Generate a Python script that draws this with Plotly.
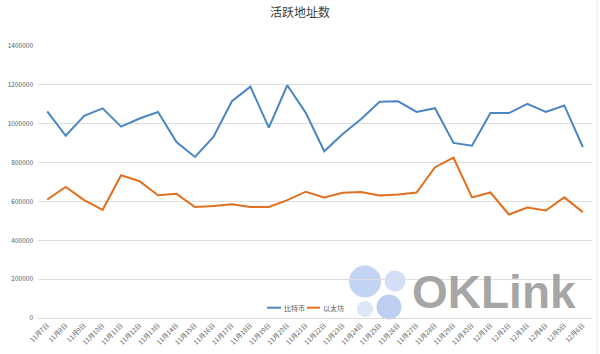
import plotly.graph_objects as go

dates = ["11月7日","11月8日","11月9日","11月10日","11月11日","11月12日","11月13日","11月14日",
         "11月15日","11月16日","11月17日","11月18日","11月19日","11月20日","11月21日","11月22日",
         "11月23日","11月24日","11月25日","11月26日","11月27日","11月28日","11月29日","11月30日",
         "12月1日","12月2日","12月3日","12月4日","12月5日","12月6日"]
btc = [1063000, 938000, 1041000, 1079000, 985000, 1027000, 1060000, 906000, 829000, 932000,
       1116000, 1191000, 980000, 1198000, 1056000, 858000, 947000, 1024000, 1113000, 1115000,
       1061000, 1080000, 901000, 887000, 1055000, 1055000, 1102000, 1061000, 1094000, 880000]
eth = [610000, 675000, 607000, 557000, 735000, 704000, 632000, 639000, 571000, 576000,
       585000, 571000, 571000, 607000, 650000, 621000, 645000, 648000, 631000, 636000,
       646000, 776000, 825000, 621000, 646000, 533000, 569000, 553000, 621000, 545000]
y_ticks = [0, 200000, 400000, 600000, 800000, 1000000, 1200000, 1400000]
series_names = ["比特币", "以太坊"]
series_colors = ["#4a86c3", "#e0701e"]

fig = go.Figure()
for name, vals, col in zip(series_names, [btc, eth], series_colors):
    fig.add_trace(go.Scatter(x=dates, y=vals, mode="lines", name=name,
                             line=dict(color=col, width=2), showlegend=False))

W, H = 600, 354
L, R, T, B = 38, 8, 46, 36
pw, ph = W - L - R, H - T - B


def px(x):
    return (x - L) / pw


def py(y):
    return (H - B - y) / ph


# OKLink watermark (decoration)
circles = [(365, 281.5, 16, "#c3d3f4"), (395, 281, 10.5, "#d3dff7"),
           (365, 309, 8, "#dce7f8"), (389, 307, 12.5, "#bfcff2")]
shapes = []
for cx, cy, r, c in circles:
    shapes.append(dict(type="circle", xref="paper", yref="paper", layer="below",
                       x0=px(cx - r), x1=px(cx + r), y0=py(cy + r), y1=py(cy - r),
                       fillcolor=c, line=dict(width=0)))
shapes.append(dict(type="line", xref="paper", yref="paper", x0=px(597), x1=px(597),
                   y0=py(H), y1=py(0), line=dict(color="#e6e6e6", width=1)))

annotations = [dict(text="<b>OKLink</b>", xref="paper", yref="paper",
                    x=px(410), xanchor="left", y=py(292), yanchor="middle",
                    showarrow=False,
                    font=dict(size=46, color="rgba(150,150,150,0.85)",
                              family="Liberation Sans, Arial"))]

# custom compact legend
leg = [(267, 281, series_names[0], series_colors[0]), (307, 320, series_names[1], series_colors[1])]
for x0, x1, name, col in leg:
    shapes.append(dict(type="line", xref="paper", yref="paper", x0=px(x0), x1=px(x1),
                       y0=py(307.7), y1=py(307.7), line=dict(color=col, width=2)))
    annotations.append(dict(text=name, xref="paper", yref="paper", x=px(x1 + 1), xanchor="left",
                            y=py(307.7), yanchor="middle", showarrow=False,
                            font=dict(size=7, color="#595959", family="Noto Sans CJK SC")))

fig.update_layout(
    width=W, height=H,
    margin=dict(l=L, r=R, t=T, b=B, autoexpand=False),
    paper_bgcolor="white", plot_bgcolor="white",
    title=dict(text="活跃地址数", x=0.5, xanchor="center", y=0.965, yanchor="middle",
               font=dict(size=12, color="#404040", family="Noto Sans CJK SC")),
    font=dict(family="Noto Sans CJK SC", color="#595959"),
    showlegend=False,
    xaxis=dict(type="category", range=[-0.5, 29.5], tickangle=-45,
               tickfont=dict(size=6.5, color="#595959"), showgrid=False,
               showline=True, linecolor="#d9d9d9", linewidth=1, ticks="", fixedrange=True),
    yaxis=dict(range=[0, 1400000], tickvals=y_ticks, ticktext=[str(v) for v in y_ticks],
               tickfont=dict(size=6.5, color="#595959"), gridcolor="#dedede", gridwidth=1,
               zeroline=False, showline=False, ticks="", ticklabelstandoff=4),
    shapes=shapes,
    annotations=annotations,
)

fig.write_html("out.html")
